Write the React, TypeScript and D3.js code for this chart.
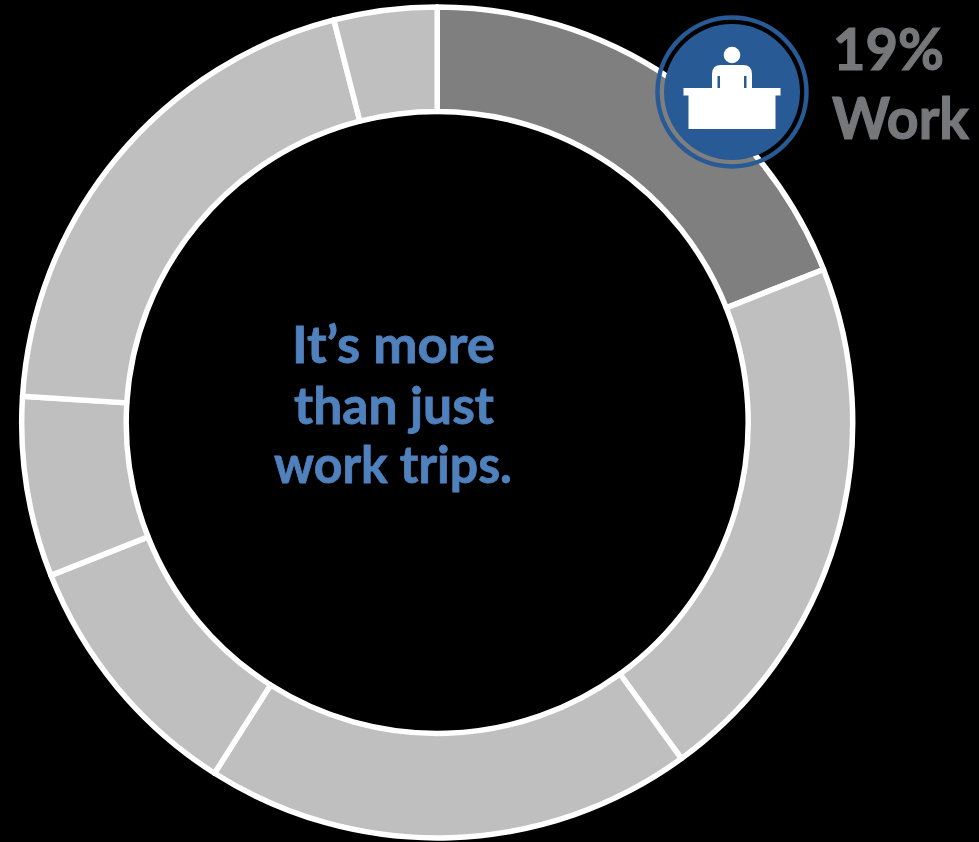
import React from "react";
import * as d3 from "d3";

// Share of trips per purpose, clockwise from twelve o'clock
const purposes = ["Work", "Purpose B", "Purpose C", "Purpose D", "Purpose E", "Purpose F", "Purpose G"];
const shares = [19, 21, 19, 10, 7, 20, 4];
const highlighted = "Work";
const highlightLabel = ["19%", "Work"];
const centerLines = ["It’s more", "than just", "work trips."];

const WIDTH = 979;
const HEIGHT = 842;
const CX = 437.2;
const CY = 422.4;
const OUTER = 415.5;
const INNER = 311;

const pieLayout = d3
  .pie<number>()
  .sort(null)
  .value((d) => d);
const arcPath = d3.arc<d3.PieArcDatum<number>>().innerRadius(INNER).outerRadius(OUTER);

const FONT = "Lato, 'Open Sans', sans-serif";

// Person seated behind a desk, centred on the badge
function DeskIcon({ x, y }: { x: number; y: number }) {
  return (
    <g transform={`translate(${x},${y})`} fill="#fff">
      <circle cx={0} cy={-37} r={8.3} />
      <path d="M-20,-4 V-18 Q-20,-27 -11,-27 H11 Q20,-27 20,-18 V-4 H14.5 V-16 H12 V-4 H-12 V-16 H-14.5 V-4 Z" />
      <rect x={-48.5} y={-4} width={97} height={7.5} />
      <rect x={-43.5} y={3} width={87} height={34} />
    </g>
  );
}

export default function App() {
  const slices = pieLayout(shares);
  return (
    <svg
      width={WIDTH}
      height={HEIGHT}
      viewBox={`0 0 ${WIDTH} ${HEIGHT}`}
      style={{ position: "fixed", left: 0, top: 0, background: "#000", display: "block" }}
    >
      <rect width={WIDTH} height={HEIGHT} fill="#000" />
      <g transform={`translate(${CX},${CY})`}>
        {slices.map((s, i) => (
          <path
            key={purposes[i]}
            d={arcPath(s) ?? ""}
            fill={purposes[i] === highlighted ? "#7f7f7f" : "#bfbfbf"}
            stroke="#fff"
            strokeWidth={5.5}
            strokeLinejoin="round"
          />
        ))}
      </g>

      <circle cx={732} cy={92} r={74.5} fill="none" stroke="#285a96" strokeWidth={4.5} />
      <circle cx={732} cy={92} r={68} fill="#285a96" />
      <DeskIcon x={732} y={92} />

      <g fontFamily={FONT} fontWeight={700} fill="#76777a" stroke="#76777a" strokeWidth={1.2} fontSize={58}>
        <text x={833} y={70} textLength={111} lengthAdjust="spacingAndGlyphs">
          {highlightLabel[0]}
        </text>
        <text x={832} y={139} textLength={137} lengthAdjust="spacingAndGlyphs">
          {highlightLabel[1]}
        </text>
      </g>

      <g fontFamily={FONT} fontWeight={700} fill="#4f81bd" stroke="#4f81bd" strokeWidth={0.8} fontSize={51}>
        <text x={292} y={363} textLength={203} lengthAdjust="spacingAndGlyphs">
          {centerLines[0]}
        </text>
        <text x={294} y={424} textLength={200} lengthAdjust="spacingAndGlyphs">
          {centerLines[1]}
        </text>
        <text x={274} y={483} textLength={238} lengthAdjust="spacingAndGlyphs">
          {centerLines[2]}
        </text>
      </g>
    </svg>
  );
}
